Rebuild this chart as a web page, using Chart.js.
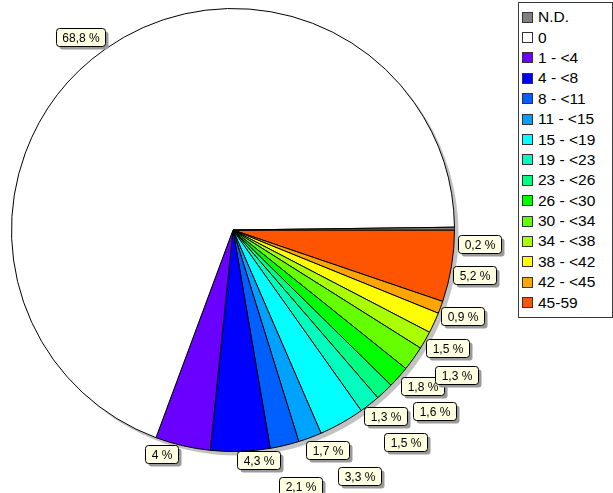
<!DOCTYPE html>
<html>
<head>
<meta charset="utf-8">
<title>Distribución</title>
<script src="https://cdn.jsdelivr.net/npm/chart.js@4.4.1/dist/chart.umd.min.js"></script>
<style>
  body { margin: 0; background: #fff; font-family: 'Liberation Sans', Arial, sans-serif; }
  #wrap { position: relative; width: 613px; height: 493px; }
  #leyenda {
    position: absolute; left: 518px; top: 2px; width: 95px; height: 316px;
    box-sizing: border-box; border: 1px solid #3a3a3a; background: #fff;
    padding-top: 4px;
  }
  .ley-item { height: 20.4px; display: flex; align-items: center; font-size: 15.5px; color: #000; }
  .ley-sq {
    width: 9px; height: 9px; margin-left: 3px; margin-right: 5px;
    border: 1.5px solid #333;
  }
</style>
</head>
<body>
<div id="wrap">
  <canvas id="grafica" width="613" height="493"></canvas>
  <div id="leyenda"></div>
</div>
<script>
// categorías en el orden de la leyenda
const categorias = ['N.D.', '0', '1 - <4', '4 - <8', '8 - <11', '11 - <15', '15 - <19', '19 - <23',
  '23 - <26', '26 - <30', '30 - <34', '34 - <38', '38 - <42', '42 - <45', '45-59'];
const porcentajes = [0.2, 68.8, 4, 4.3, 2.1, 1.7, 3.3, 1.5, 1.3, 1.6, 1.8, 1.3, 1.5, 0.9, 5.2];
const colores = ['#808080', '#ffffff', '#6a00ff', '#0000ff', '#0060ff', '#00a2ff', '#00ffff', '#00ffbf',
  '#00ff80', '#00ff00', '#66ff00', '#aaff00', '#ffff00', '#ffa500', '#ff5500'];

// colocación de las etiquetas: px fuera del borde y giro en grados
const distEtiqueta = [25, 25, 14, 10, 43, 18, 55, 52, 19, 49, 24, 45, 23, 24, 24];
const giroEtiqueta = [3.6, -3.1, 4.6, -4.4, -1.4, -2.9, 2.1, -1.0, 3.7, 0.3, 3.9, 3.0, 4.0, 0.1, 1.1];

function fmt(v) {
  return String(v).replace('.', ',') + ' %';
}

// la tarta se dibuja en sentido horario desde las 3, en orden inverso a la leyenda
const n = categorias.length;
const idxPie = categorias.map((_, i) => n - 1 - i);

function rrect(ctx, x, y, w, h, r) {
  ctx.beginPath();
  ctx.moveTo(x + r, y);
  ctx.lineTo(x + w - r, y);
  ctx.quadraticCurveTo(x + w, y, x + w, y + r);
  ctx.lineTo(x + w, y + h - r);
  ctx.quadraticCurveTo(x + w, y + h, x + w - r, y + h);
  ctx.lineTo(x + r, y + h);
  ctx.quadraticCurveTo(x, y + h, x, y + h - r);
  ctx.lineTo(x, y + r);
  ctx.quadraticCurveTo(x, y, x + r, y);
  ctx.closePath();
}

const etiquetasPlugin = {
  id: 'etiquetas',
  beforeDatasetsDraw(chart) {
    const arc = chart.getDatasetMeta(0).data[0];
    if (!arc) return;
    const ctx = chart.ctx;
    ctx.save();
    ctx.fillStyle = '#c2c2c2';
    ctx.beginPath();
    ctx.arc(arc.x + 4, arc.y + 4, arc.outerRadius, 0, Math.PI * 2);
    ctx.fill();
    ctx.restore();
  },
  afterDatasetsDraw(chart) {
    const meta = chart.getDatasetMeta(0);
    const ctx = chart.ctx;
    ctx.save();
    ctx.font = '12px "Liberation Sans", Arial, sans-serif';
    ctx.textAlign = 'center';
    ctx.textBaseline = 'middle';
    for (let k = 0; k < n; k++) {
      const arc = meta.data[n - 1 - k];
      const ang = (arc.startAngle + arc.endAngle) / 2 + giroEtiqueta[k] * Math.PI / 180;
      const d = arc.outerRadius + distEtiqueta[k];
      const cx = arc.x + Math.cos(ang) * d;
      const cy = arc.y + Math.sin(ang) * d;
      const txt = fmt(porcentajes[k]);
      const w = Math.round(ctx.measureText(txt).width + 12);
      const h = 18;
      const x0 = Math.round(cx - w / 2) + 0.5;
      const y0 = Math.round(cy - h / 2) + 0.5;
      ctx.fillStyle = '#9a9a9a';
      rrect(ctx, x0 + 3, y0 + 3, w, h, 3);
      ctx.fill();
      ctx.fillStyle = '#ffffe1';
      rrect(ctx, x0, y0, w, h, 3);
      ctx.fill();
      ctx.strokeStyle = '#000';
      ctx.lineWidth = 1;
      ctx.stroke();
      ctx.fillStyle = '#000';
      ctx.fillText(txt, x0 + w / 2, y0 + h / 2 + 1);
    }
    ctx.restore();
  }
};

new Chart(document.getElementById('grafica'), {
  type: 'pie',
  data: {
    labels: idxPie.map(i => categorias[i]),
    datasets: [{
      data: idxPie.map(i => porcentajes[i]),
      backgroundColor: idxPie.map(i => colores[i]),
      borderColor: '#000',
      borderWidth: 1,
      hoverOffset: 0,
      offset: 0
    }]
  },
  options: {
    responsive: false,
    devicePixelRatio: 1,
    animation: false,
    rotation: 90,
    layout: { padding: { left: 11, right: 158, top: 8, bottom: 41 } },
    plugins: {
      legend: { display: false },
      tooltip: { enabled: false }
    }
  },
  plugins: [etiquetasPlugin]
});

// leyenda en HTML
const ley = document.getElementById('leyenda');
ley.innerHTML = categorias.map((c, i) =>
  `<div class="ley-item"><span class="ley-sq" style="background:${colores[i]}"></span>${c.replace('<', '&lt;')}</div>`
).join('');
</script>
</body>
</html>
